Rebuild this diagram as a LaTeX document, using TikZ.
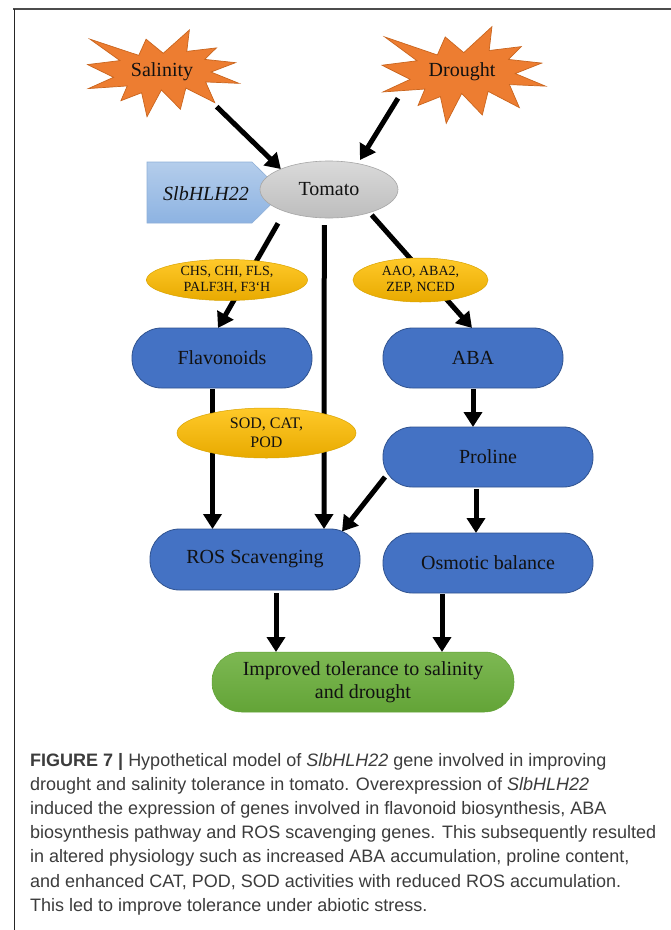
\documentclass[tikz,border=0pt]{standalone}
\usepackage{fontspec}
\setmainfont{Liberation Serif}
\newfontfamily\capfont{Liberation Sans}
\usetikzlibrary{arrows.meta,shapes.geometric}
\definecolor{starfill}{HTML}{ED7D31}
\definecolor{stardraw}{HTML}{C9651E}
\definecolor{boxblue}{HTML}{4472C4}
\definecolor{boxbluedraw}{HTML}{2F528F}
\definecolor{yeltop}{HTML}{FFC929}
\definecolor{yelbot}{HTML}{E8AA00}
\definecolor{yeldraw}{HTML}{D9A300}
\definecolor{graytop}{HTML}{DADADA}
\definecolor{graybot}{HTML}{BDBDBD}
\definecolor{graydraw}{HTML}{A6A6A6}
\definecolor{hlhtop}{HTML}{B4CDEB}
\definecolor{hlhbot}{HTML}{8DB3E2}
\definecolor{hlhdraw}{HTML}{8FB0D8}
\definecolor{greentop}{HTML}{7DB853}
\definecolor{greenbot}{HTML}{63A437}
\definecolor{captext}{HTML}{3C3C3C}
\definecolor{diagtext}{HTML}{111111}
\pgfdeclarelayer{bg}
\pgfsetlayers{bg,main}
\tikzset{
  arr/.style={line width=5pt,-{Triangle[width=18pt,length=15pt]}},
  bluebox/.style={rectangle,rounded corners=29.5pt,fill=boxblue,draw=boxbluedraw,line width=0.8pt,
    minimum width=#1,minimum height=60pt,inner sep=0pt,outer sep=0pt,text=diagtext,
    font=\fontsize{20}{24}\selectfont,align=center},
  gene/.style={ellipse,top color=yeltop,bottom color=yelbot,draw=yeldraw,line width=0.5pt,
    inner sep=0pt,outer sep=0pt,align=center,text=diagtext},
  startext/.style={inner sep=0pt,text=diagtext,font=\fontsize{20}{24}\selectfont},
  starshape/.style={fill=starfill,draw=stardraw,line width=0.7pt,line join=miter},
  captionline/.style={anchor=base west,inner sep=0pt,text=captext,font=\capfont\fontsize{18}{22}\selectfont},
}
\newcommand{\explosionpath}{(108,58) -- (83.52,22.95) -- (73.12,63.2) -- (3.7,22.95) -- (46.27,76.17) -- (0,86.15) -- (37.22,117.75) -- (1.35,145.87) -- (56.67,139.37) -- (47.62,176.17) -- (77.15,156.27) -- (84.85,216) -- (105.32,149.35) -- (132.47,197.37) -- (140.2,144.57) -- (181.45,180.95) -- (168.37,129.42) -- (216,132.9) -- (176.07,104.75) -- (210.97,81.37) -- (167.02,73.15) -- (183.8,44.57) -- (141.55,53.25) -- (145.22,0) -- cycle}
\begin{document}
\begin{tikzpicture}[x=1pt,y=-1pt]
\useasboundingbox (0,0) rectangle (671,930);
\begin{pgfonlayer}{bg}
\fill[white] (0,0) rectangle (671,930);
\end{pgfonlayer}
% frame
\draw[line width=2pt,color=black!70] (13,9) -- (671,9);
\draw[line width=1pt,color=black!85] (14,9) -- (14,930);

% stress stars
\begin{scope}[shift={(87.5,30)},xscale=0.7014,yscale=0.4014]
  \draw[starshape] \explosionpath;
\end{scope}
\begin{scope}[shift={(382,26.7)},xscale=0.757,yscale=0.4472]
  \draw[starshape] \explosionpath;
\end{scope}
\node[startext] (sal) at (162,72) {Salinity};
\node[startext] (dro) at (462,72) {Drought};

% SlbHLH22 pentagon
\draw[top color=hlhtop,bottom color=hlhbot,draw=hlhdraw,line width=0.6pt]
  (147,162) -- (252,162) -- (283,192.5) -- (252,223) -- (147,223) -- cycle;
\node[startext,font=\fontsize{20}{24}\selectfont\itshape] (hlh) at (206,194) {SlbHLH22};

% tomato
\node[ellipse,top color=graytop,bottom color=graybot,draw=graydraw,line width=0.6pt,
  minimum width=138pt,minimum height=57pt,inner sep=0pt,outer sep=0pt,text=diagtext,
  font=\fontsize{20}{24}\selectfont] (tom) at (329,189.5) {Tomato};

% gene ellipses
\node[gene,minimum width=161pt,minimum height=41pt,font=\fontsize{14}{16.5}\selectfont] (chs) at (227,280) {CHS, CHI, FLS,\\PALF3H, F3`H};
\node[gene,minimum width=135pt,minimum height=44pt,font=\fontsize{14}{16.5}\selectfont] (aao) at (420.5,280) {AAO, ABA2,\\ZEP, NCED};
\node[gene,minimum width=179pt,minimum height=50pt,font=\fontsize{16}{19}\selectfont] (sod) at (266.5,433) {SOD, CAT,\\POD};

% blue boxes
\node[bluebox=180pt] (flav) at (222,358) {Flavonoids};
\node[bluebox=180pt] (aba) at (473,358) {ABA};
\node[bluebox=210pt] (pro) at (488,457) {Proline};
\node[bluebox=210pt,minimum height=61pt] (ros) at (255,559.5) {ROS Scavenging};
\node[bluebox=210pt] (osm) at (488,563) {Osmotic balance};

% result
\node[rectangle,rounded corners=29.5pt,top color=greentop,bottom color=greenbot,draw=greenbot,
  line width=0.5pt,minimum width=302pt,minimum height=60pt,inner sep=0pt,outer sep=0pt,
  text=diagtext,align=center,font=\fontsize{20}{23}\selectfont] (imp) at (363,682)
  {Improved tolerance to salinity\\and drought};

% connectors
\begin{pgfonlayer}{bg}
\draw[arr] ([xshift=54.7pt,yshift=-34.7pt]sal.center) -- (tom.157);
\draw[arr] ([xshift=-64pt,yshift=-26.3pt]dro.center) -- ([xshift=31pt,yshift=1pt]tom.north);
\draw[arr] ([xshift=-51pt,yshift=-5.3pt]tom.south) -- ([xshift=-4pt]flav.north);
\draw[arr] ([xshift=-4.7pt,yshift=-7pt]tom.south) -- ([xshift=69pt]ros.north);
\draw[arr] ([xshift=42.7pt,yshift=3pt]tom.south) -- ([xshift=-1pt]aba.north);
\draw[arr] ([xshift=-9.5pt,yshift=-1pt]flav.south) -- ([xshift=-42.5pt]ros.north);
\draw[arr] ([yshift=-1pt]aba.south) -- ([xshift=-15pt]pro.north);
\draw[arr] ([xshift=2pt,yshift=10pt]pro.south west) -- ([xshift=-18pt,yshift=-2.5pt]ros.north east);
\draw[arr] ([xshift=-12pt,yshift=-2pt]pro.south) -- ([xshift=-12pt]osm.north);
\draw[arr] ([xshift=21pt,yshift=-3pt]ros.south) -- ([xshift=-87pt]imp.north);
\draw[arr] ([xshift=-46pt,yshift=-1pt]osm.south) -- ([xshift=79pt]imp.north);
\end{pgfonlayer}

% caption
\node[captionline] (cap1) at (30,766) {{\bfseries FIGURE 7 |} Hypothetical model of {\itshape SlbHLH22} gene involved in improving};
\node[captionline] (cap2) at (30,790.2) {drought and salinity tolerance in tomato. Overexpression of {\itshape SlbHLH22}};
\node[captionline] (cap3) at (30,814.4) {induced the expression of genes involved in flavonoid biosynthesis, ABA};
\node[captionline] (cap4) at (30,838.6) {biosynthesis pathway and ROS scavenging genes. This subsequently resulted};
\node[captionline] (cap5) at (30,862.8) {in altered physiology such as increased ABA accumulation, proline content,};
\node[captionline] (cap6) at (30,887) {and enhanced CAT, POD, SOD activities with reduced ROS accumulation.};
\node[captionline] (cap7) at (30,911.2) {This led to improve tolerance under abiotic stress.};
\end{tikzpicture}
\end{document}
